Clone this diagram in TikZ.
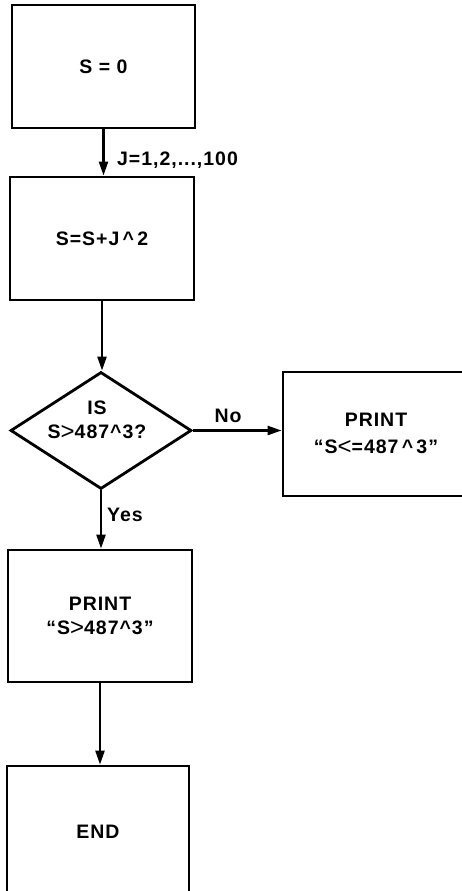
\documentclass[tikz,border=0pt]{standalone}
\usepackage{fontspec}
\setmainfont{Liberation Sans}[LetterSpace=5]
\usetikzlibrary{arrows.meta,shapes.geometric}
\newcommand{\bigcmp}[1]{{\fontsize{24}{24}\selectfont\mdseries\raisebox{-1pt}{#1}}}
\begin{document}
\begin{tikzpicture}[x=1pt,y=-1pt,
  txt/.style={font=\fontsize{19.5}{24}\selectfont\bfseries},
  box/.style={txt,draw,line width=2.8pt,rectangle,inner sep=0pt,align=center},
  dec/.style={draw,line width=2.8pt,diamond,aspect=1.55,inner sep=0pt},
  arr/.style={line width=2.4pt,-{Triangle[length=14pt,width=9pt]}},
  lab/.style={txt,inner sep=0pt}]
\useasboundingbox (0,0) rectangle (462,891);
\clip (0,0) rectangle (462,891);
\node[box,minimum width=183pt,minimum height=123pt] (b1) at (103.5,66.5) {S = 0};
\node[box,minimum width=184pt,minimum height=123pt] (b2) at (102,238.5) {S=S+J\,\textasciicircum\,2};
\node[dec,minimum width=181pt,minimum height=117pt] (d) at (101,430.5) {};
\node[lab,align=center] (dt) at (97,420) {IS\\S\bigcmp{>}487\textasciicircum3?};
\node[box,minimum width=186pt,minimum height=124pt] (r) at (376,434) {PRINT\\[3pt]“S\bigcmp{<}=487\,\textasciicircum\,3”};
\node[box,minimum width=184pt,minimum height=132pt] (b3) at (100,616) {PRINT\\“S\bigcmp{>}487\textasciicircum3”};
\node[box,minimum width=182pt,minimum height=132pt] (b4) at (98,832) {END};
\draw[arr] (b1.south) -- (b1.south |- b2.north);
\draw[arr] (b2.south) -- (b2.south |- d.north);
\draw[arr] (d.east) -- (d.east -| r.west);
\draw[arr] (d.south) -- (d.south |- b3.north);
\draw[arr] (b3.south) -- (b3.south |- b4.north);
\node[lab,anchor=west] (lj) at (117,160) {J=1,2,...,100};
\node[lab] (lno) at (228,416) {No};
\node[lab,anchor=west] (lyes) at (107,515) {Yes};
\end{tikzpicture}
\end{document}
